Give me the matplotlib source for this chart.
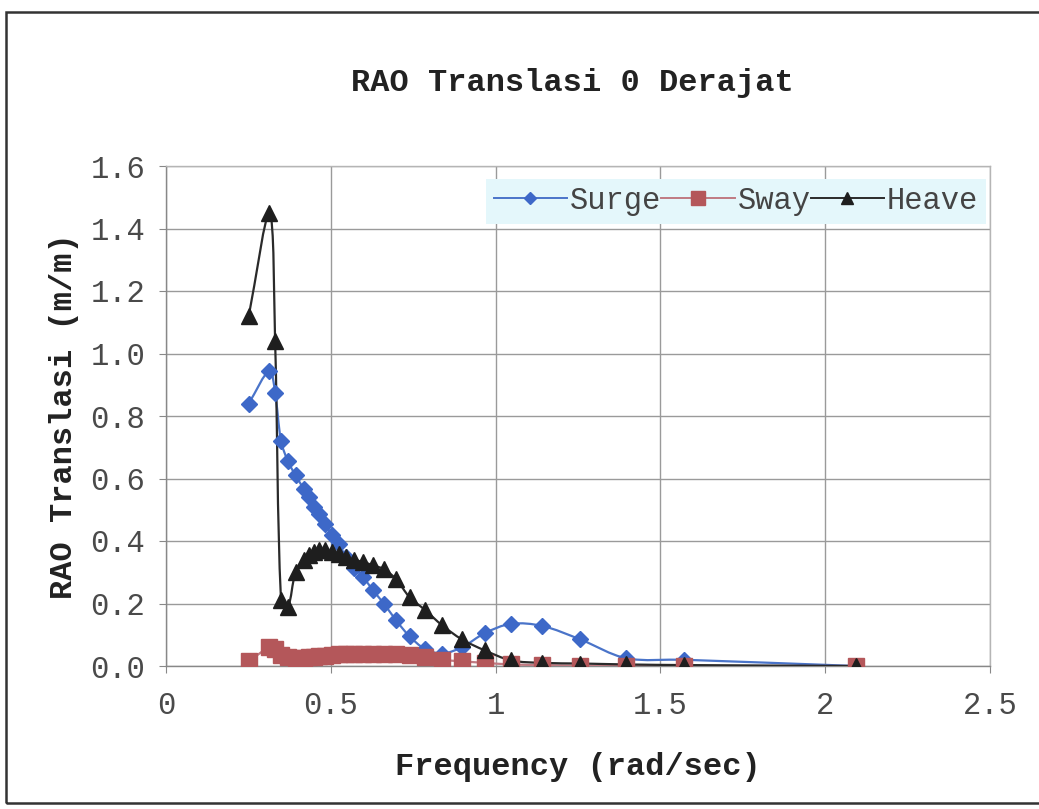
import numpy as np
import matplotlib.pyplot as plt
from matplotlib.path import Path
from matplotlib.patches import PathPatch, Rectangle
from matplotlib.lines import Line2D

#%% data
freq = [0.251, 0.314, 0.331, 0.349, 0.370, 0.393, 0.419, 0.433, 0.449, 0.465,
        0.483, 0.503, 0.524, 0.546, 0.571, 0.598, 0.628, 0.661, 0.698, 0.739,
        0.785, 0.838, 0.898, 0.967, 1.047, 1.142, 1.257, 1.396, 1.571, 2.094]

surge = [0.84, 0.945, 0.875, 0.72, 0.655, 0.61, 0.565, 0.54, 0.51, 0.485,
         0.455, 0.42, 0.39, 0.35, 0.315, 0.285, 0.242, 0.20, 0.146, 0.095,
         0.055, 0.04, 0.06, 0.105, 0.135, 0.128, 0.085, 0.025, 0.02, 0.0]

sway = [0.015, 0.06, 0.055, 0.035, 0.03, 0.027, 0.027, 0.028, 0.03, 0.032,
        0.033, 0.035, 0.037, 0.038, 0.039, 0.039, 0.039, 0.038, 0.037, 0.035,
        0.03, 0.02, 0.015, 0.01, 0.005, 0.003, 0.001, 0.0, 0.0, 0.0]

heave = [1.12, 1.45, 1.04, 0.21, 0.19, 0.30, 0.34, 0.355, 0.365, 0.37,
         0.37, 0.365, 0.36, 0.35, 0.34, 0.333, 0.322, 0.31, 0.278, 0.22,
         0.18, 0.13, 0.085, 0.05, 0.018, 0.01, 0.008, 0.005, 0.003, 0.0]

xticks = [0, 0.5, 1, 1.5, 2, 2.5]
xtick_labels = ['0', '0.5', '1', '1.5', '2', '2.5']
yticks = [0.0, 0.2, 0.4, 0.6, 0.8, 1.0, 1.2, 1.4, 1.6]
ytick_labels = ['0.0', '0.2', '0.4', '0.6', '0.8', '1.0', '1.2', '1.4', '1.6']

W, H = 1039, 809
ax_px = (166, 166, 824, 500)   # left, top, width, height in pixels
xmax, ymax = 2.5, 1.6


def smooth_path(x, y):
    # excel style smoothed line, bezier handles weighted by segment length on screen
    pts = np.column_stack([x, y]).astype(float)
    sc = np.array([ax_px[2] / xmax, ax_px[3] / ymax])
    p = np.vstack([pts[0], pts, pts[-1]])
    d = np.r_[0, np.hypot(*((np.diff(p, axis=0)) * sc).T), 0]
    verts = [pts[0]]
    codes = [Path.MOVETO]
    for i in range(1, len(p) - 2):
        dp, dc, dn = d[i], d[i + 1], d[i + 2]
        w1 = dc / (dp + dc) if dp + dc > 0 else 0.5
        w2 = dc / (dc + dn) if dc + dn > 0 else 0.5
        c1 = p[i] + (p[i + 1] - p[i - 1]) * w1 / 3
        c2 = p[i + 1] - (p[i + 2] - p[i]) * w2 / 3
        verts += [c1, c2, p[i + 1]]
        codes += [Path.CURVE4] * 3
    return Path(verts, codes)


mono = 'Liberation Mono'
fig = plt.figure(figsize=(W / 100, H / 100), dpi=100)
ax = fig.add_axes([ax_px[0] / W, 1 - (ax_px[1] + ax_px[3]) / H, ax_px[2] / W, ax_px[3] / H])

# outer chart frame
fig.patches.append(Rectangle((6 / W, 1 - 803 / H), 1.2, 791 / H, transform=fig.transFigure,
                             fill=False, edgecolor='#333333', linewidth=1.8))

series = [
    ('Surge', surge, '#4a74c9', '#3d68c8', 'D', 8, '#4a74c9'),
    ('Sway', sway, '#c07a82', '#b4575a', 's', 12, '#c07a82'),
    ('Heave', heave, '#2a2a2a', '#1e1e1e', '^', 11, '#2a2a2a'),
]
handles = []
for name, vals, lc, mc, mk, ms, hc in series:
    ax.add_patch(PathPatch(smooth_path(freq, vals), facecolor='none', edgecolor=lc,
                           linewidth=1.6, zorder=3))
    ax.plot(freq, vals, linestyle='none', marker=mk, markersize=ms, color=mc,
            markeredgecolor=mc, zorder=4)
    handles.append(Line2D([], [], color=hc, marker=mk, markersize=ms * 0.8,
                          markerfacecolor=mc, markeredgecolor=mc, linewidth=1.4, label=name))

ax.set_xlim(0, xmax)
ax.set_ylim(0, ymax)
ax.set_xticks(xticks)
ax.set_xticklabels(xtick_labels)
ax.set_yticks(yticks)
ax.set_yticklabels(ytick_labels)
ax.grid(True, color='#9a9a9a', linewidth=1.0)
ax.set_axisbelow(True)
for s in ax.spines.values():
    s.set_color('#b5b5b5')
    s.set_linewidth(1.0)
ax.spines['left'].set_color('#888888')
ax.spines['bottom'].set_color('#888888')
ax.tick_params(axis='both', direction='out', length=5, color='#888888', labelsize=22,
               labelcolor='#4a4a4a')
ax.tick_params(axis='x', pad=13)
ax.tick_params(axis='y', pad=10)
for lab in ax.get_xticklabels() + ax.get_yticklabels():
    lab.set_fontfamily(mono)

ax.set_xlabel('Frequency (rad/sec)', fontfamily=mono, fontweight='bold', fontsize=23,
              color='#222222', labelpad=22)
ax.set_ylabel('RAO Translasi (m/m)', fontfamily=mono, fontweight='bold', fontsize=23,
              color='#222222', labelpad=8)
fig.text(572 / W, 1 - 83 / H, 'RAO Translasi 0 Derajat', fontfamily=mono, fontweight='bold',
         fontsize=23, color='#222222', ha='center', va='center')

leg = ax.legend(handles=handles, loc='upper right', bbox_to_anchor=(0.995, 0.975), ncol=3,
                prop={'family': mono, 'size': 22}, handlelength=2.4, handletextpad=0.1,
                columnspacing=0.0, borderpad=0.25, frameon=True, fancybox=False,
                borderaxespad=0.0)
leg.get_frame().set_facecolor('#e4f7fb')
leg.get_frame().set_edgecolor('none')
leg.get_frame().set_alpha(1)
for t in leg.get_texts():
    t.set_color('#444444')

fig.savefig('out.png', dpi=100, facecolor='white')
